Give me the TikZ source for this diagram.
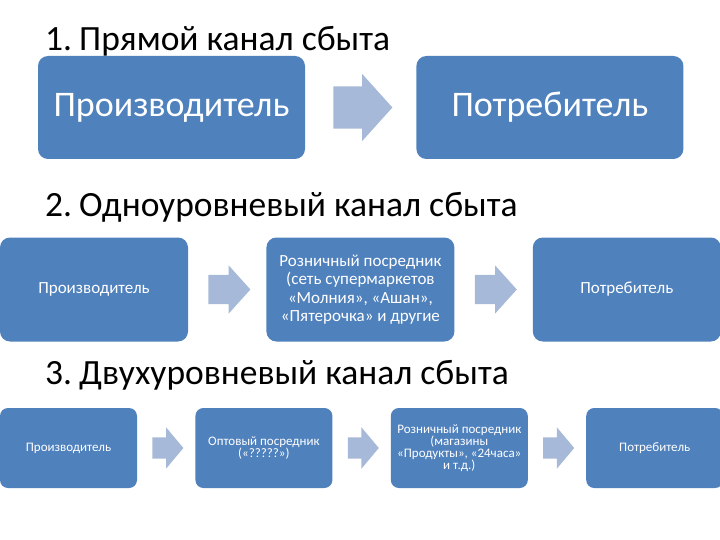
\documentclass[tikz,border=0pt]{standalone}
\usepackage{fontspec}
\setmainfont{Carlito}
\usetikzlibrary{shapes.arrows, positioning, calc}

\definecolor{boxblue}{HTML}{4F81BD}
\definecolor{arrblue}{HTML}{A7B9D9}

\begin{document}
\begin{tikzpicture}[x=1pt, y=-1pt,
    title/.style={anchor=base west, inner sep=0pt, font=\fontsize{35.5}{40}\selectfont},
    b1/.style={fill=boxblue, rounded corners=10pt, text=white, align=center,
      minimum width=267pt, minimum height=103pt, inner sep=0pt,
      font=\fontsize{36}{40}\selectfont},
    b2/.style={fill=boxblue, rounded corners=10pt, text=white, align=center,
      minimum width=188pt, minimum height=104pt, inner sep=0pt,
      font=\fontsize{17}{18.5}\selectfont},
    b3/.style={fill=boxblue, rounded corners=8pt, text=white, align=center,
      minimum width=137pt, minimum height=80pt, inner sep=0pt,
      font=\fontsize{13}{12}\selectfont},
    a1/.style={single arrow, fill=arrblue, inner xsep=0pt, inner ysep=21pt, anchor=tail,
      minimum height=59pt, single arrow head extend=12.5pt, single arrow tip angle=96},
    a2/.style={single arrow, fill=arrblue, inner xsep=0pt, inner ysep=14.5pt, anchor=tail,
      minimum height=42pt, single arrow head extend=9.5pt, single arrow tip angle=96},
    a3/.style={single arrow, fill=arrblue, inner xsep=0pt, inner ysep=10.5pt, anchor=tail,
      minimum height=31pt, single arrow head extend=10pt, single arrow tip angle=100}
  ]
    \useasboundingbox (0,0) rectangle (720,540);

    % 1
    \node[title] (t1) at (45,51) {1.\hspace{0.2em}Прямой канал сбыта};
    \node[b1] (p1) at (171.5,107.5) {Производитель};
    \node[b1, right=111pt of p1] (c1) {Потребитель};
    \node[a1] (r1) at ($(p1.east)+(28,0)$) {};

    % 2
    \node[title] (t2) at (45,217) {2.\hspace{0.2em}Одноуровневый канал сбыта};
    \node[b2] (p2) at (94,289.5) {Производитель};
    \node[b2, right=78pt of p2] (s2) {Розничный посредник\\ (сеть супермаркетов\\ «Молния», «Ашан»,\\ «Пятерочка» и другие};
    \node[b2, right=78pt of s2] (c2) {Потребитель};
    \node[a2] (r21) at ($(p2.east)+(20,0)$) {};
    \node[a2] (r22) at ($(s2.east)+(20,0)$) {};

    % 3
    \node[title] (t3) at (45,384) {3.\hspace{0.2em}Двухуровневый канал сбыта};
    \node[b3] (p3) at (68.5,448) {Производитель};
    \node[b3, right=58pt of p3] (w3) {Оптовый посредник\\ («?????»)};
    \node[b3, right=58pt of w3] (s3) {Розничный посредник\\ (магазины\\ «Продукты», «24часа»\\ и т.д.)};
    \node[b3, right=58pt of s3] (c3) {Потребитель};
    \node[a3] (r31) at ($(p3.east)+(15,0)$) {};
    \node[a3] (r32) at ($(w3.east)+(15,0)$) {};
    \node[a3] (r33) at ($(s3.east)+(15,0)$) {};
\end{tikzpicture}
\end{document}
